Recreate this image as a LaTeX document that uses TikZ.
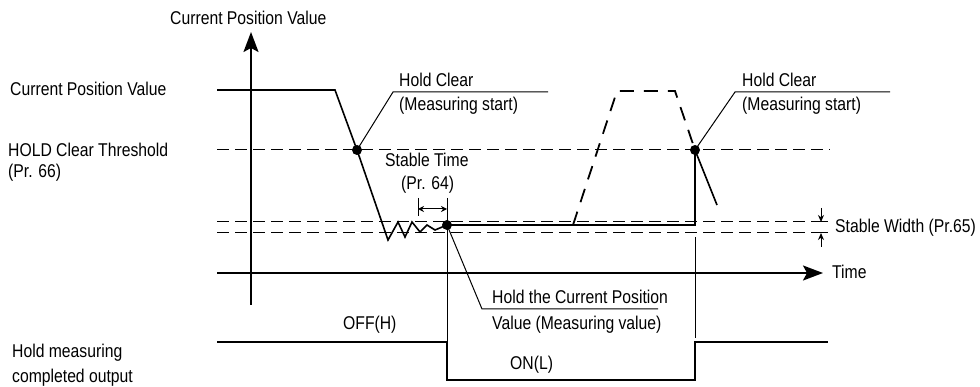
\documentclass[tikz,border=0pt]{standalone}
\usepackage{fontspec}
\setmainfont{Liberation Sans}[FakeStretch=0.85]
\usetikzlibrary{arrows.meta}
\begin{document}
\begin{tikzpicture}[x=1pt,y=-1pt,
  lbl/.style={font=\fontsize{18.5}{21}\selectfont, inner sep=0pt, anchor=west},
  thinln/.style={line width=1pt},
  sig/.style={line width=2pt},
  wave/.style={line width=1.6pt, line join=miter},
  dsh/.style={line width=1pt, dash pattern=on 12pt off 6pt},
  trap/.style={line width=1.8pt, dash pattern=on 14pt off 10pt},
  dotn/.style={circle, fill=black, inner sep=0pt, minimum size=10pt},
  axisarrow/.style={line width=2pt, -{Stealth[length=20pt,width=15pt,inset=4pt]}},
  dimarrow/.style={line width=1pt, {Stealth[length=6pt,width=6pt]}-{Stealth[length=6pt,width=6pt]}},
  swarrow/.style={line width=1pt, -{Stealth[length=7pt,width=6pt]}}]
\useasboundingbox (0,0) rectangle (980,387);

% labels
\node[lbl] (ytitle) at (170,18) {Current Position Value};
\node[lbl] (cpv) at (10,89) {Current Position Value};
\node[lbl] (hct) at (8,150) {HOLD Clear Threshold};
\node[lbl] (pr66) at (8,173) {(Pr. 66)};
\node[lbl] (hc1) at (399,80) {Hold Clear};
\node[lbl] (ms1) at (399,106) {(Measuring start)};
\node[lbl] (st) at (385,160) {Stable Time};
\node[lbl] (pr64) at (401,185) {(Pr. 64)};
\node[lbl] (hc2) at (742,80) {Hold Clear};
\node[lbl] (ms2) at (742,106) {(Measuring start)};
\node[lbl] (sw) at (835,228) {Stable Width (Pr.65)};
\node[lbl] (time) at (832,272) {Time};
\node[lbl] (hcp) at (492,297) {Hold the Current Position};
\node[lbl] (vmv) at (492,325) {Value (Measuring value)};
\node[lbl] (off) at (343,325) {OFF(H)};
\node[lbl] (on) at (510,365) {ON(L)};
\node[lbl] (hm) at (12,353) {Hold measuring};
\node[lbl] (co) at (12,378) {completed output};

% coordinates
\coordinate (yb) at (251,305);
\coordinate (yt) at (251,32);
\coordinate (tl) at (217,273);
\coordinate (tr) at (823,273);

% reference lines
\draw[dsh] (217,150) -- (830,150);
\draw[dsh] (217,222) -- (815,222);
\draw[dsh] (217,233) -- (815,233);

% axes
\draw[axisarrow] (yb) -- (yt);
\draw[axisarrow] (tl) -- (tr);

% dots
\node[dotn] (d1) at (357,150) {};
\node[dotn] (d2) at (447,225) {};
\node[dotn] (d3) at (695,150) {};

% waveform
\draw[wave] (217,90) -- (335,90) -- (d1.center) -- (388,240) -- (398,222) -- (405,237)
  -- (412,222) -- (420,232) -- (427,225) -- (435,230) -- (d2.center);
\draw[sig] (d2.center) -- (695,225) -- (d3.center);
\draw[wave] (d3.center) -- (717,205);
\draw[trap] (573,225) -- (617,91) -- (675,91) -- (d3.center);

% stable time dimension
\draw[thinln] (418,198) -- (418,216);
\draw[thinln] (447,198) -- (d2.center);
\draw[dimarrow] (418,209) -- (447,209);

% vertical markers
\draw[thinln] (d2.center) -- (447,342);
\draw[thinln] (695,237) -- (695,338);

% leaders
\draw[thinln] (d1.center) -- (393,92) -- (548,92);
\draw[thinln] (d3.center) -- (735,92) -- (890,92);
\draw[thinln] (d2.center) -- (482,309) -- (658,309);

% stable width
\draw[thinln] (815,222) -- (828,222);
\draw[thinln] (815,233) -- (828,233);
\draw[swarrow] (821,208) -- (821,222);
\draw[swarrow] (821,247) -- (821,233);

% output signal
\draw[sig] (217,342) -- (447,342) -- (447,380) -- (695,380) -- (695,342) -- (828,342);
\end{tikzpicture}
\end{document}
